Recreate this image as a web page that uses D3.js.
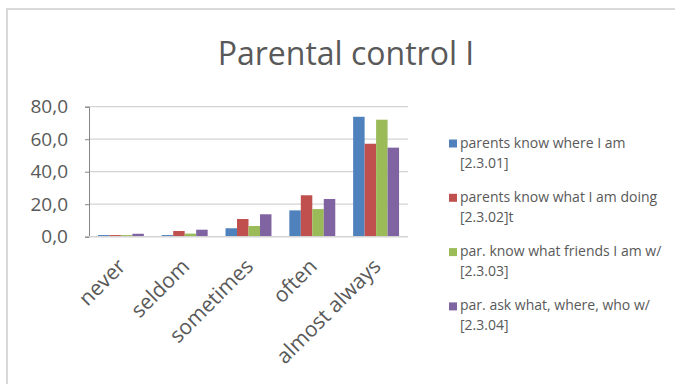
<!DOCTYPE html>
<html>
<head>
<meta charset="utf-8">
<script src="https://cdn.jsdelivr.net/npm/d3@7"></script>
<style>
  html, body { margin: 0; padding: 0; background: #fff; }
  svg { display: block; font-family: "Open Sans", sans-serif; }
</style>
</head>
<body>
<svg id="chart" width="675" height="384"></svg>
<script>
// Response categories and the four survey items (percent of respondents)
const categories = ["never", "seldom", "sometimes", "often", "almost always"];
const seriesNames = [
  ["parents know where I am", "[2.3.01]"],
  ["parents know what I am doing", "[2.3.02]t"],
  ["par. know what friends I am w/", "[2.3.03]"],
  ["par. ask what, where, who w/", "[2.3.04]"]
];
const knowWhere   = [1.0, 1.0, 5.2, 16.2, 73.8];
const knowDoing   = [1.0, 3.5, 10.9, 25.5, 57.2];
const knowFriends = [1.0, 1.9, 6.6, 17.0, 72.0];
const askWho      = [1.8, 4.3, 13.8, 23.2, 54.8];
const seriesValues = [knowWhere, knowDoing, knowFriends, askWho];
const colors = ["#4f81bd", "#c0504d", "#9bbb59", "#8064a2"];
const yTicks = [0, 20, 40, 60, 80];

const svg = d3.select("#chart");

// chart area frame (top and left edges fall inside the view)
svg.append("path")
  .attr("d", "M7,400 V9 H700")
  .attr("fill", "none").attr("stroke", "#d9d9d9").attr("stroke-width", 2);

// title
svg.append("text")
  .attr("x", 346).attr("y", 65)
  .attr("text-anchor", "middle")
  .attr("font-size", 32)
  .attr("fill", "#595959")
  .text("Parental control I");

const plotLeft = 89, plotRight = 408, plotTop = 106.7, plotBottom = 236.7;

const y = d3.scaleLinear().domain([0, 80]).range([plotBottom, plotTop]);
const x = d3.scaleBand().domain(categories).range([plotLeft, plotRight])
  .paddingInner(0.28).paddingOuter(0.14);
const xInner = d3.scaleBand().domain(d3.range(seriesValues.length))
  .range([0, x.bandwidth()]);

// gridlines
svg.append("g").selectAll("line").data(yTicks.filter(d => d > 0)).join("line")
  .attr("x1", plotLeft).attr("x2", plotRight)
  .attr("y1", d => y(d)).attr("y2", d => y(d))
  .attr("stroke", "#d4d4d4").attr("stroke-width", 1.3);

// y axis
const yAxis = svg.append("g")
  .attr("transform", `translate(${plotLeft},0)`)
  .call(d3.axisLeft(y).tickValues(yTicks).tickSize(4)
    .tickFormat(d => d3.format(".1f")(d).replace(".", ",")));
yAxis.select(".domain").attr("stroke", "#868686");
yAxis.selectAll(".tick line").attr("stroke", "#868686");
yAxis.selectAll(".tick text")
  .attr("font-size", 19)
  .attr("font-family", "Open Sans, sans-serif")
  .attr("fill", "#595959")
  .attr("x", -21);

// bars
const groups = svg.append("g").selectAll("g").data(categories).join("g")
  .attr("transform", d => `translate(${x(d)},0)`);
groups.selectAll("rect")
  .data((c, i) => seriesValues.map((vals, s) => ({ s, v: vals[i] })))
  .join("rect")
  .attr("x", d => xInner(d.s))
  .attr("width", xInner.bandwidth())
  .attr("y", d => y(d.v))
  .attr("height", d => y(0) - y(d.v))
  .attr("fill", d => colors[d.s]);

// x axis baseline
svg.append("line")
  .attr("x1", plotLeft).attr("x2", plotRight)
  .attr("y1", plotBottom).attr("y2", plotBottom)
  .attr("stroke", "#d4d4d4").attr("stroke-width", 1.5);

// category labels, rotated
svg.append("g").selectAll("text").data(categories).join("text")
  .attr("transform", d => `translate(${x(d) + x.bandwidth() / 2 + 6},${plotBottom + 31}) rotate(-45)`)
  .attr("text-anchor", "end")
  .attr("font-size", 21)
  .attr("fill", "#595959")
  .text(d => d);

// legend
const legend = svg.append("g").selectAll("g").data(seriesNames).join("g")
  .attr("transform", (d, i) => `translate(449,${139.5 + i * 54.3})`);
legend.append("rect")
  .attr("width", 8).attr("height", 8)
  .attr("fill", (d, i) => colors[i]);
legend.append("text")
  .attr("x", 11).attr("y", 8)
  .attr("font-size", 14)
  .attr("fill", "#595959")
  .text(d => d[0]);
legend.append("text")
  .attr("x", 11).attr("y", 28)
  .attr("font-size", 14)
  .attr("fill", "#595959")
  .text(d => d[1]);
</script>
</body>
</html>
